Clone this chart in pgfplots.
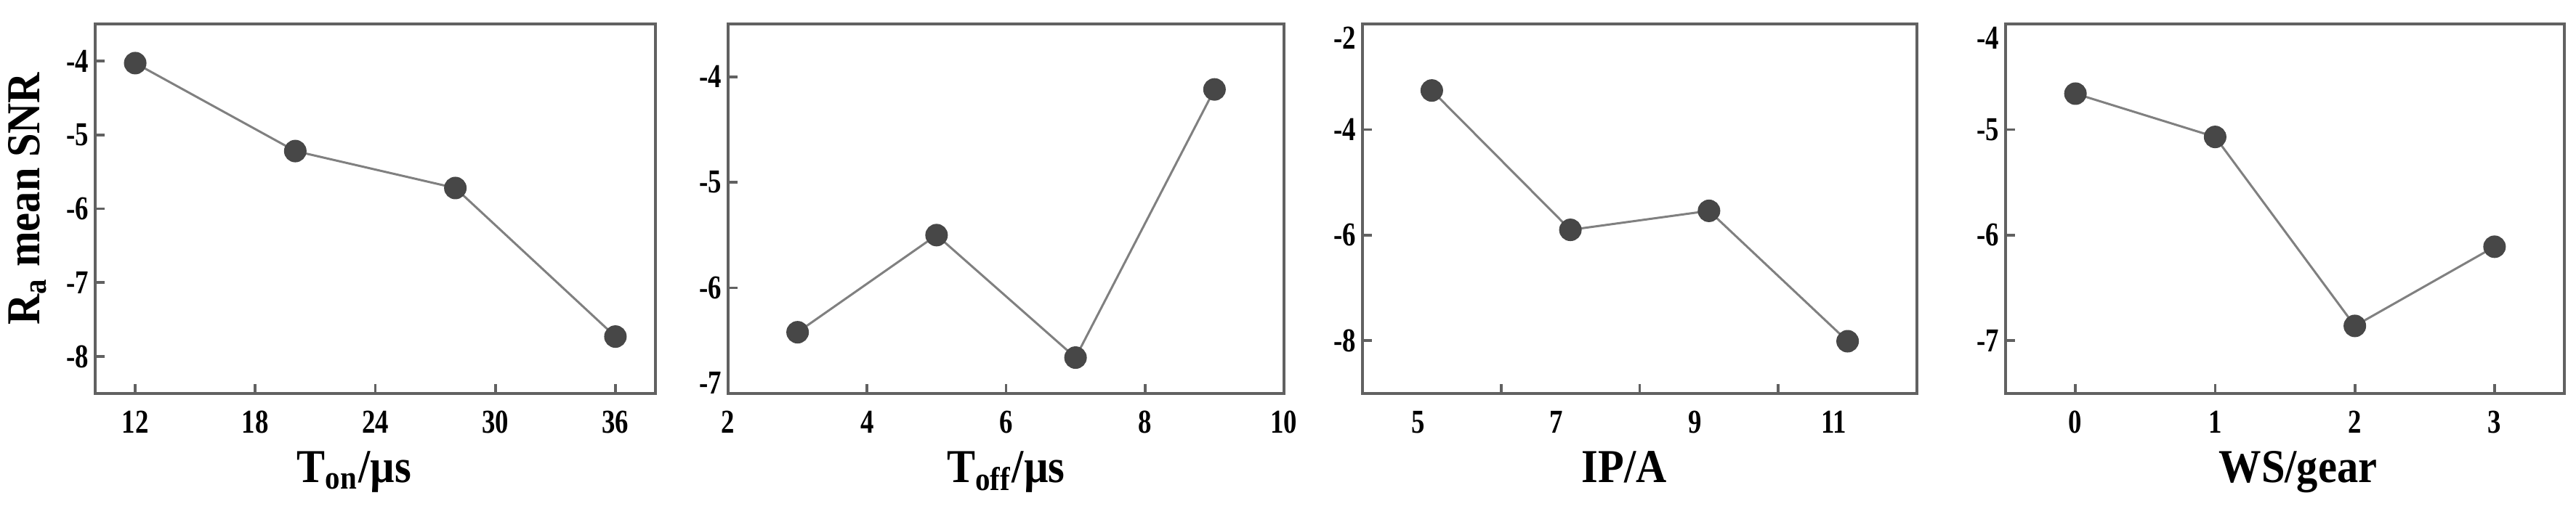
\documentclass[border=0pt]{standalone}
\usepackage{fontspec}
\setmainfont{Liberation Serif}
\newfontfamily\tickfont[FakeStretch=0.8]{Liberation Serif}
\newfontfamily\labfont[FakeStretch=0.9]{Liberation Serif}
\usepackage{pgfplots}
\pgfplotsset{compat=1.18}

\pgfplotsset{
  snr/.style={
    scale only axis,
    width=#1, height=101.8pt,
    anchor=south west,
    tick align=inside,
    xtick pos=bottom, ytick pos=left,
    major tick length=2.6pt,
    axis line style={black!62, line width=0.75pt},
    tick style={black!62, line width=0.75pt},
    /pgf/number format/assume math mode=true,
    tick label style={font=\tickfont\bfseries\fontsize{9.2}{10}\selectfont},
    xticklabel style={anchor=base, yshift=-11pt},
    yticklabel style={inner sep=1.6pt},
    label style={font=\labfont\bfseries\fontsize{13}{15}\selectfont},
    xlabel style={at={(axis description cs:0.5,0)}, anchor=base, yshift=-24.5pt},
    clip=false,
  },
  dots/.style={color=black!50, line width=0.6pt, mark=*, mark size=2.8pt,
    mark options={fill=black!72, draw=black!72}},
}

\begin{document}
\begin{tikzpicture}
\useasboundingbox (0,0) rectangle (709pt,141.6pt);

% Ton
\begin{axis}[snr=154.2pt, at={(26.2pt,33.2pt)},
  xmin=10, xmax=38, ymin=-8.5, ymax=-3.5,
  xtick={12,18,24,30,36}, ytick={-8,-7,-6,-5,-4},
  xlabel={T\textsubscript{on}/µs},
  xlabel style={xshift=-5.8pt},
  ylabel={R\textsubscript{a} mean SNR},
  ylabel style={at={(axis description cs:-0.1206,0.527)}, anchor=center},
]
\addplot[dots] coordinates {(12,-4.03) (20,-5.22) (28,-5.72) (36,-7.73)};
\end{axis}

% Toff
\begin{axis}[snr=153pt, at={(200.4pt,33.2pt)},
  xmin=2, xmax=10, ymin=-7, ymax=-3.5,
  xtick={2,4,6,8,10}, ytick={-6,-5,-4},
  extra y ticks={-7},
  extra y tick style={yticklabel style={yshift=2.9pt}},
  xlabel={T\textsubscript{off}/µs},
]
\addplot[dots] coordinates {(3,-6.42) (5,-5.50) (7,-6.66) (9,-4.12)};
\end{axis}

% IP
\begin{axis}[snr=152.6pt, at={(375pt,33.2pt)},
  xmin=4, xmax=12, ymin=-9, ymax=-2,
  xtick={6,8,10}, xticklabels={},
  extra x ticks={4.8,6.8,8.8,10.8},
  extra x tick labels={5,7,9,11},
  extra x tick style={major tick length=0pt},
  ytick={-8,-6,-4},
  extra y ticks={-2},
  extra y tick style={yticklabel style={yshift=-3.8pt}},
  xlabel={IP/A},
  xlabel style={xshift=-4.2pt},
]
\addplot[dots] coordinates {(5,-3.26) (7,-5.90) (9,-5.54) (11,-8.01)};
\end{axis}

% WS
\begin{axis}[snr=153.8pt, at={(552pt,33.2pt)},
  xmin=-0.5, xmax=3.5, ymin=-7.5, ymax=-4,
  xtick={0,1,2,3}, ytick={-7,-6,-5},
  extra y ticks={-4},
  extra y tick style={yticklabel style={yshift=-3.8pt}},
  xlabel={WS/gear},
  xlabel style={xshift=3.6pt},
]
\addplot[dots] coordinates {(0,-4.66) (1,-5.07) (2,-6.86) (3,-6.11)};
\end{axis}
\end{tikzpicture}
\end{document}
